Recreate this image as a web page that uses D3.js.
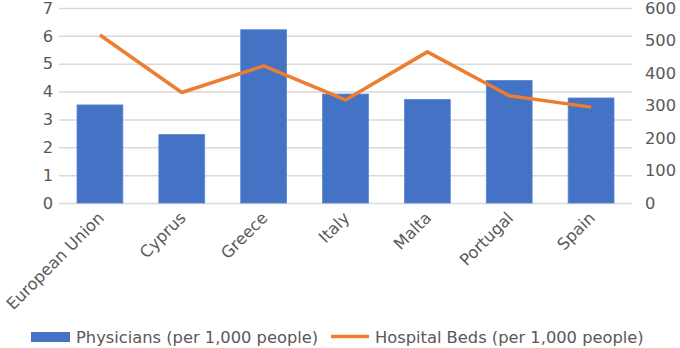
<!DOCTYPE html>
<html><head><meta charset="utf-8">
<script src="https://cdn.jsdelivr.net/npm/d3@7"></script>
<style>body{margin:0;background:#fff}svg{display:block}text{font-family:"DejaVu Sans",sans-serif;fill:#595959}</style>
</head><body><svg id="c" width="680" height="348"></svg>
<script>
const categories = ["European Union","Cyprus","Greece","Italy","Malta","Portugal","Spain"];
const physicians = [3.52,2.46,6.22,3.91,3.72,4.40,3.77];
const hospitalBeds = [517,340,422,317,465,330,295];
const leftTicks = [0,1,2,3,4,5,6,7];
const rightTicks = [0,100,200,300,400,500,600];
const seriesNames = ["Physicians (per 1,000 people)","Hospital Beds (per 1,000 people)"];

const svg = d3.select("#c");
const L = 59, R = 632, T = 8, B = 203;
const x = d3.scaleBand().domain(categories).range([L,R]).paddingInner(0.44).paddingOuter(0.22);
const xc = d3.scaleBand().domain(categories).range([L,R]);
const yL = d3.scaleLinear().domain([0,7]).range([B,T]);
const yR = d3.scaleLinear().domain([0,600]).range([B,T]);

svg.append("g").selectAll("line").data(leftTicks).join("line")
  .attr("x1",L).attr("x2",R).attr("y1",d=>yL(d)+0.5).attr("y2",d=>yL(d)+0.5)
  .attr("stroke","#d9d9d9").attr("stroke-width",1.5);

svg.append("g").selectAll("rect").data(physicians).join("rect")
  .attr("x",(d,i)=>x(categories[i])).attr("width",x.bandwidth())
  .attr("y",d=>yL(d)).attr("height",d=>B-yL(d))
  .attr("fill","#4472c4").attr("stroke","#5b86d6").attr("stroke-width",0.8);

const line = d3.line().x((d,i)=>xc(categories[i])+xc.bandwidth()/2).y(d=>yR(d));
svg.append("path").datum(hospitalBeds).attr("d",line)
  .attr("fill","none").attr("stroke","#ed7d31").attr("stroke-width",3.5).attr("stroke-linejoin","round");

const fs = 16.3;
const gl = svg.append("g").attr("transform",`translate(${L},0)`)
  .call(d3.axisLeft(yL).tickValues(leftTicks).tickFormat(d3.format("d")).tickSize(0).tickPadding(6));
gl.select(".domain").remove();
gl.selectAll("text").style("font-size",fs+"px").attr("fill","#595959");

const gr = svg.append("g").attr("transform",`translate(${R},0)`)
  .call(d3.axisRight(yR).tickValues(rightTicks).tickSize(0).tickPadding(13));
gr.select(".domain").remove();
gr.selectAll("text").style("font-size",fs+"px").attr("fill","#595959");

const gx = svg.append("g").attr("transform",`translate(0,${B})`)
  .call(d3.axisBottom(xc).tickSize(0));
gx.select(".domain").remove();
gx.selectAll("text").style("font-size",fs+"px").attr("fill","#595959")
  .attr("text-anchor","end").attr("dy","0").attr("y",0)
  .attr("transform","translate(5,16) rotate(-45)");

const lg = svg.append("g");
lg.append("rect").attr("x",31).attr("y",332).attr("width",39).attr("height",10).attr("fill","#4472c4");
lg.append("text").attr("x",76).attr("y",342.5).style("font-size",fs+"px").text(seriesNames[0]);
lg.append("line").attr("x1",331).attr("x2",369).attr("y1",336.5).attr("y2",336.5).attr("stroke","#ed7d31").attr("stroke-width",3.5);
lg.append("text").attr("x",375).attr("y",342.5).style("font-size",fs+"px").text(seriesNames[1]);
</script></body></html>
